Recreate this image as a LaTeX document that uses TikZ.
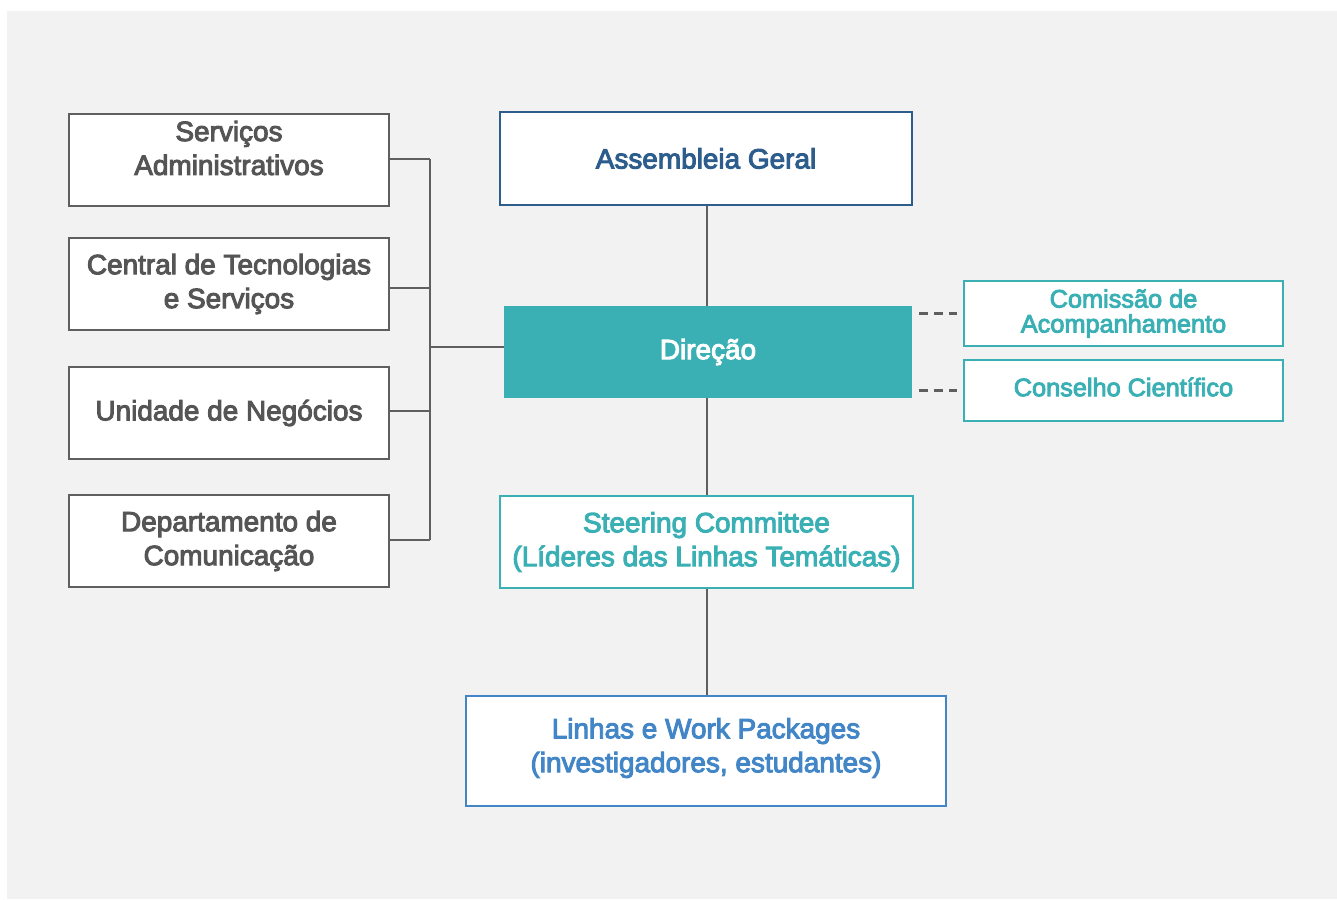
\documentclass[tikz,border=0pt]{standalone}
\usepackage{fontspec}
\setmainfont{Liberation Sans}[FakeBold=3.5]
\usepackage{tikz}
\usetikzlibrary{positioning,calc}
\definecolor{bgGray}{RGB}{242,242,242}
\definecolor{lineGray}{RGB}{95,95,95}
\definecolor{textGray}{RGB}{85,85,85}
\definecolor{orgTeal}{RGB}{58,176,181}
\definecolor{orgNavy}{RGB}{44,93,140}
\definecolor{orgBlue}{RGB}{66,134,199}

\tikzset{
  boxtext/.style={font=\fontsize{15.9}{19.3}\selectfont, align=center},
  unitbox/.style={boxtext, draw=lineGray, line width=1.5pt, fill=white, text=textGray,
    minimum width=6.4cm, minimum height=1.84cm, inner sep=0pt},
  headbox/.style={boxtext, draw=orgNavy, line width=1.5pt, fill=white, text=orgNavy,
    minimum width=8.24cm, minimum height=1.86cm, inner sep=0pt},
  dirbox/.style={boxtext, fill=orgTeal, text=white,
    minimum width=8.16cm, minimum height=1.84cm, inner sep=0pt},
  advbox/.style={draw=orgTeal, line width=1.5pt, fill=white, text=orgTeal, align=center,
    font=\fontsize{14.4}{14.2}\selectfont, minimum width=6.38cm, inner sep=0pt},
  steerbox/.style={boxtext, draw=orgTeal, line width=1.5pt, fill=white, text=orgTeal,
    minimum width=8.26cm, minimum height=1.84cm, inner sep=0pt},
  wpbox/.style={boxtext, draw=orgBlue, line width=1.6pt, fill=white, text=orgBlue,
    minimum width=9.6cm, minimum height=2.2cm, inner sep=0pt},
  link/.style={draw=lineGray, line width=1.35pt},
  dashlink/.style={draw=lineGray, line width=1.35pt, dash pattern=on 0.18cm off 0.12cm}
}

\begin{document}
\begin{tikzpicture}[x=0.02cm, y=-0.02cm]
  % canvas
  \useasboundingbox (0,0) rectangle (1337,899);
  \fill[bgGray] (7,11) rectangle (1337,899);

  % support units on the left
  \node[unitbox, label={[boxtext, text=textGray, yshift=0.24cm]center:Serviços\\Administrativos}] (srv) at (229,160) {};
  \node[unitbox] (cts) at (229,284) {Central de Tecnologias\\e Serviços};
  \node[unitbox] (une) at (229,413) {Unidade de Negócios};
  \node[unitbox] (dcom) at (229,541) {Departamento de\\Comunicação};

  % main chain
  \node[headbox] (ag) at (706,158.5) {Assembleia Geral};
  \node[dirbox] (dir) at (708,352) {Direção};
  \node[steerbox] (stc) at (706.5,542) {Steering Committee\\(Líderes das Linhas Temáticas)};
  \node[wpbox, label={[boxtext, text=orgBlue, yshift=0.06cm]center:Linhas e Work Packages\\(investigadores, estudantes)}] (lwp) at (706,751) {};

  % advisory bodies
  \node[advbox, minimum height=1.3cm] (cac) at (1123.5,313.5) {Comissão de\\Acompanhamento};
  \node[advbox, minimum height=1.22cm, label={[advbox, draw=none, fill=none, yshift=0.07cm]center:Conselho Científico}] (ccf) at (1123.5,390.5) {};

  % vertical spine
  \draw[link] (ag.south -| 707,0) -- (dir.north -| 707,0);
  \draw[link] (dir.south -| 707,0) -- (stc.north -| 707,0);
  \draw[link] (stc.south -| 707,0) -- (lwp.north -| 707,0);

  % bus to the support units
  \coordinate (busT) at (430,159);
  \coordinate (busB) at (430,540);
  \coordinate (hub) at (430,347);
  \draw[link] (busT) -- (busB);
  \draw[link] (srv.east |- busT) -- (busT);
  \draw[link] (cts.east |- 0,288) -- (busT |- 0,288);
  \draw[link] (une.east |- 0,411) -- (busT |- 0,411);
  \draw[link] (dcom.east |- busB) -- (busB);
  \draw[link] (hub) -- (hub -| dir.west);

  % dashed ties to the advisory bodies
  \draw[dashlink] ([xshift=0.14cm]dir.east |- cac.west) -- ([xshift=-0.12cm]cac.west);
  \draw[dashlink] ([xshift=0.14cm]dir.east |- ccf.west) -- ([xshift=-0.12cm]ccf.west);
\end{tikzpicture}
\end{document}
